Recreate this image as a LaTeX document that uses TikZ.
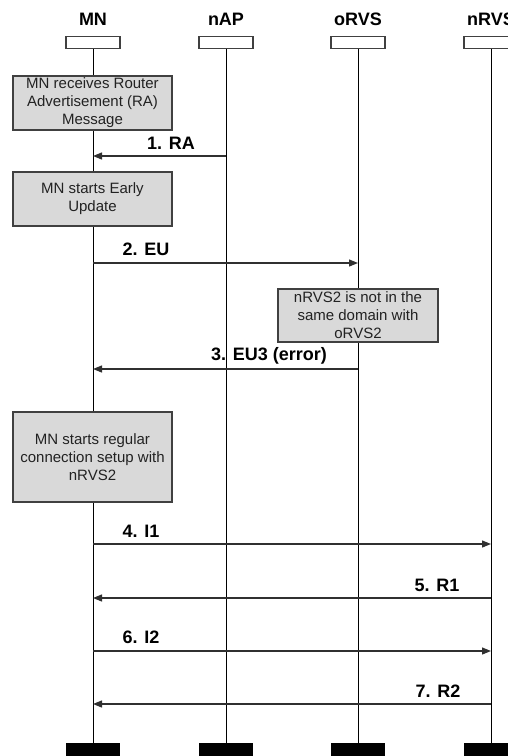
\documentclass[tikz,border=0pt]{standalone}
\usepackage{fontspec}
\setmainfont{Liberation Sans}
\usetikzlibrary{arrows.meta}
\definecolor{linec}{HTML}{404040}
\definecolor{notefill}{HTML}{D9D9D9}
\definecolor{textc}{HTML}{222222}
\definecolor{arrc}{HTML}{303030}
\begin{document}
\begin{tikzpicture}[x=1pt,y=-1pt,
  head/.style={draw=linec, fill=white, line width=1.2pt, minimum width=54pt, minimum height=12pt, inner sep=0pt, anchor=north},
  foot/.style={fill=black, minimum width=54pt, minimum height=14pt, inner sep=0pt, anchor=north},
  title/.style={font=\fontsize{18}{20}\selectfont\bfseries, inner sep=0pt},
  note/.style={draw=linec, fill=notefill, line width=1.2pt, minimum width=159pt, align=center, font=\fontsize{15}{18}\selectfont, inner sep=0pt, text=textc},
  msg/.style={draw=arrc, line width=1.2pt, -{Triangle[length=9pt,width=7pt]}},
  lbl/.style={font=\fontsize{18}{20}\selectfont\bfseries, inner sep=0pt},
  life/.style={draw=black, line width=1pt}]
\useasboundingbox (0,0) rectangle (508,756);
\clip (0,0) rectangle (508,756);
% titles
\node[title] (tMN) at (93,19) {MN};
\node[title] (tAP) at (226,19) {nAP};
\node[title] (tOR) at (358,19) {oRVS};
\node[title] (tNR) at (491,19) {nRVS};
% head boxes
\node[head] (hMN) at (93,36) {};
\node[head] (hAP) at (226,36) {};
\node[head] (hOR) at (358,36) {};
\node[head] (hNR) at (491,36) {};
% foot boxes
\node[foot] (fMN) at (93,743) {};
\node[foot] (fAP) at (226,743) {};
\node[foot] (fOR) at (358,743) {};
\node[foot] (fNR) at (491,743) {};
% lifelines
\draw[life] (hMN.south) -- (fMN.north);
\draw[life] (hAP.south) -- (fAP.north);
\draw[life] (hOR.south) -- (fOR.north);
\draw[life] (hNR.south) -- (fNR.north);
% notes
\node[note, minimum height=54pt] (n1) at (92.5,103) {MN receives Router\\Advertisement (RA)\\Message};
\node[note, minimum height=54pt] (n2) at (92.5,199) {MN starts Early\\Update};
\node[note, minimum height=53pt, minimum width=160pt] (n3) at (358,315.5) {nRVS2 is not in the\\same domain with\\oRVS2};
\node[note, minimum height=90pt] (n4) at (92.5,457) {MN starts regular\\connection setup with\\nRVS2};
% message end points
\coordinate (a1s) at (226,156); \coordinate (a1e) at (93,156);
\coordinate (a2s) at (93,263);  \coordinate (a2e) at (358,263);
\coordinate (a3s) at (358,369); \coordinate (a3e) at (93,369);
\coordinate (a4s) at (93,544);  \coordinate (a4e) at (491,544);
\coordinate (a5s) at (491,598); \coordinate (a5e) at (93,598);
\coordinate (a6s) at (93,651);  \coordinate (a6e) at (491,651);
\coordinate (a7s) at (491,704); \coordinate (a7e) at (93,704);
\draw[msg] (a1s) -- (a1e);
\draw[msg] (a2s) -- (a2e);
\draw[msg] (a3s) -- (a3e);
\draw[msg] (a4s) -- (a4e);
\draw[msg] (a5s) -- (a5e);
\draw[msg] (a6s) -- (a6e);
\draw[msg] (a7s) -- (a7e);
% labels
\node[lbl] (l1) at (171,143) {1. RA};
\node[lbl] (l2) at (146,249) {2. EU};
\node[lbl] (l3) at (269,356) {3. EU3 (error)};
\node[lbl] (l4) at (141,531) {4. I1};
\node[lbl] (l5) at (437,585) {5. R1};
\node[lbl] (l6) at (141,637) {6. I2};
\node[lbl] (l7) at (438,691) {7. R2};
\end{tikzpicture}
\end{document}
